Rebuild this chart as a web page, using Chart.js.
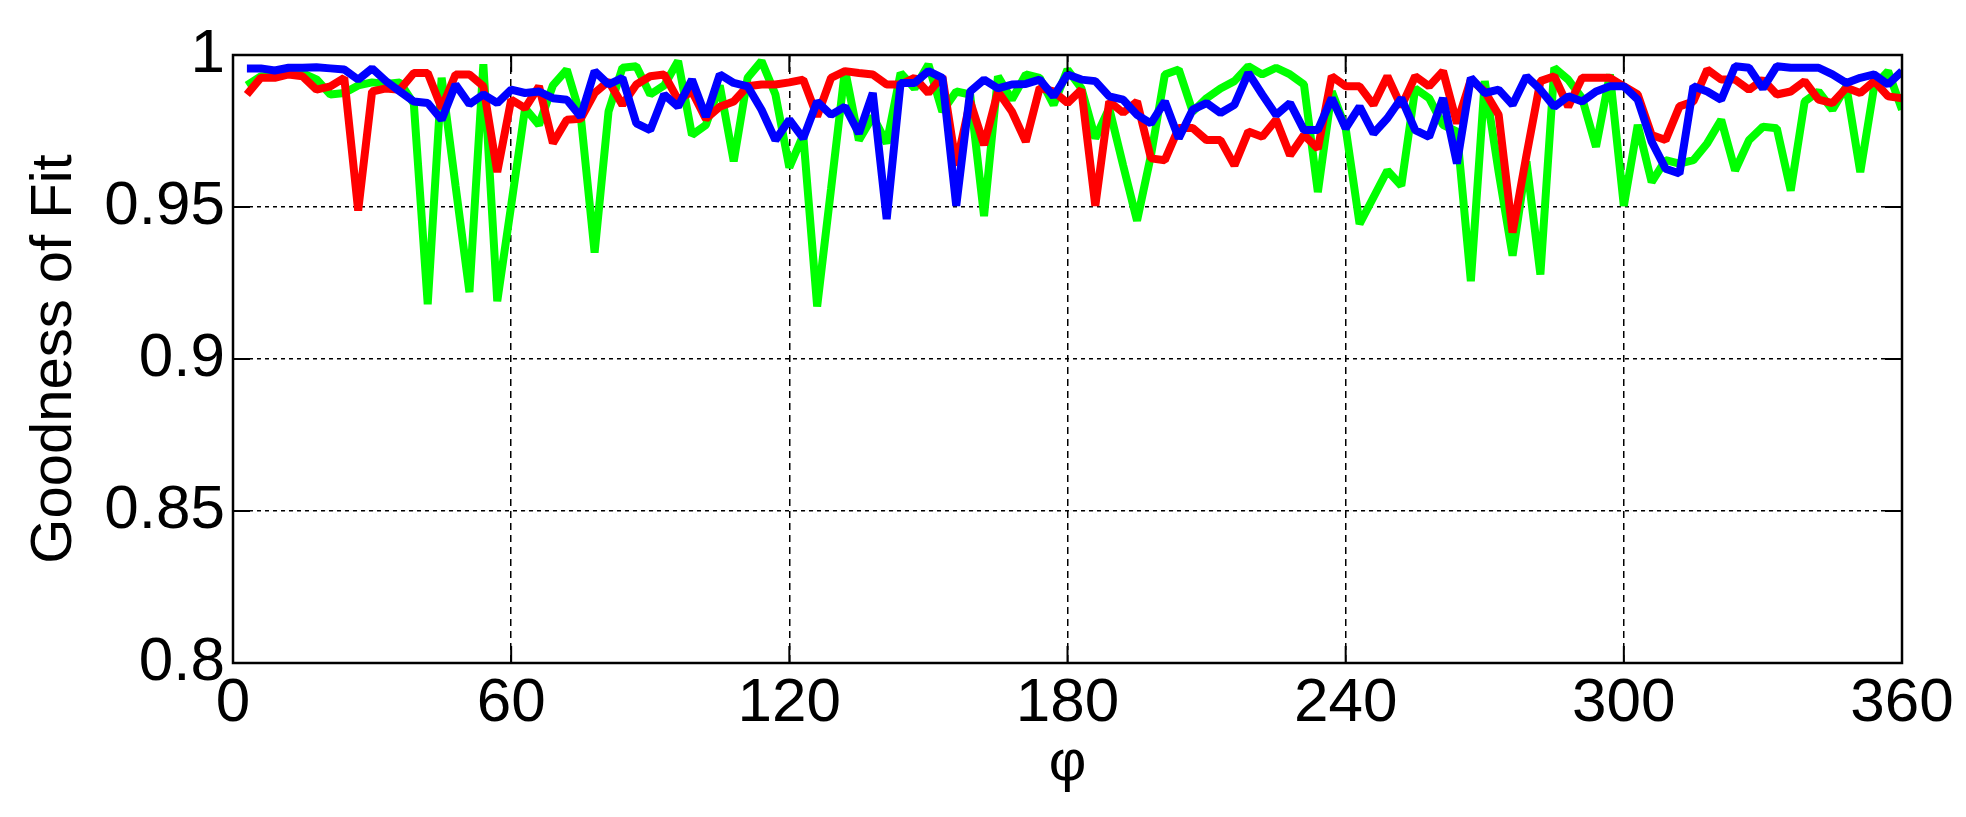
<!DOCTYPE html>
<html>
<head>
<meta charset="utf-8">
<script src="https://cdn.jsdelivr.net/npm/chart.js@4.4.1/dist/chart.umd.min.js"></script>
<style>
  html, body { margin: 0; padding: 0; background: #fff; }
  #wrap { width: 1966px; height: 817px; }
</style>
</head>
<body>
<div id="wrap"><canvas id="myChart" width="1966" height="817"></canvas></div>
<script>
  // phi angles (degrees), one sample every 3 degrees
  const phi = [3, 6, 9, 12, 15, 18, 21, 24, 27, 30, 33, 36, 39, 42, 45, 48, 51, 54, 57, 60,
    63, 66, 69, 72, 75, 78, 81, 84, 87, 90, 93, 96, 99, 102, 105, 108, 111, 114, 117, 120,
    123, 126, 129, 132, 135, 138, 141, 144, 147, 150, 153, 156, 159, 162, 165, 168, 171, 174, 177, 180,
    183, 186, 189, 192, 195, 198, 201, 204, 207, 210, 213, 216, 219, 222, 225, 228, 231, 234, 237, 240,
    243, 246, 249, 252, 255, 258, 261, 264, 267, 270, 273, 276, 279, 282, 285, 288, 291, 294, 297, 300,
    303, 306, 309, 312, 315, 318, 321, 324, 327, 330, 333, 336, 339, 342, 345, 348, 351, 354, 357, 360];

  const redFit = [0.987, 0.9925, 0.9925, 0.9936, 0.993, 0.9886, 0.9897, 0.9925, 0.9488, 0.988, 0.989, 0.9886, 0.9941, 0.9941, 0.9825, 0.9936, 0.9936, 0.9897, 0.9615, 0.9853,
    0.9825, 0.9897, 0.971, 0.9787, 0.979, 0.9875, 0.9914, 0.9836, 0.9903, 0.993, 0.9936, 0.9853, 0.988, 0.979, 0.983, 0.9847, 0.9897, 0.9903, 0.9903, 0.991,
    0.9919, 0.9798, 0.9925, 0.9947, 0.9941, 0.9936, 0.9903, 0.9903, 0.9925, 0.9875, 0.993, 0.9637, 0.9847, 0.9704, 0.988, 0.9814, 0.9715, 0.9892, 0.988, 0.9842,
    0.9886, 0.9504, 0.9847, 0.981, 0.9847, 0.966, 0.9654, 0.976, 0.976, 0.972, 0.972, 0.9637, 0.9748, 0.9731, 0.9787, 0.967, 0.9737, 0.9692, 0.993, 0.9897,
    0.9897, 0.9836, 0.993, 0.983, 0.993, 0.9897, 0.9947, 0.9775, 0.9919, 0.988, 0.9803, 0.9416, 0.967, 0.9914, 0.993, 0.983, 0.9925, 0.9925, 0.9925, 0.9897,
    0.987, 0.9737, 0.972, 0.9831, 0.9847, 0.9952, 0.9919, 0.9919, 0.9886, 0.9919, 0.987, 0.988, 0.9914, 0.9853, 0.9842, 0.9892, 0.9875, 0.9914, 0.9864, 0.9858];

  const greenFit = [0.99, 0.993, 0.993, 0.994, 0.994, 0.992, 0.987, 0.9875, 0.99, 0.991, 0.9905, 0.991, 0.984, 0.918, 0.9925, 0.957, 0.922, 0.997, 0.919, 0.9505,
    0.9825, 0.977, 0.99, 0.9952, 0.98, 0.935, 0.9814, 0.9958, 0.9963, 0.987, 0.99, 0.998, 0.9737, 0.977, 0.99, 0.965, 0.9925, 0.998, 0.987, 0.963,
    0.9737, 0.9173, 0.956, 0.9952, 0.972, 0.9798, 0.971, 0.9941, 0.989, 0.9969, 0.9814, 0.988, 0.987, 0.947, 0.993, 0.9853, 0.9936, 0.9925, 0.9836, 0.9952,
    0.989, 0.9726, 0.9825, 0.9637, 0.9455, 0.967, 0.9936, 0.9952, 0.9814, 0.9858, 0.989, 0.9914, 0.9963, 0.9936, 0.9958, 0.9936, 0.9903, 0.9549, 0.988, 0.9759,
    0.9444, 0.9532, 0.962, 0.957, 0.989, 0.9858, 0.977, 0.9748, 0.9256, 0.9914, 0.9615, 0.934, 0.965, 0.9278, 0.9958, 0.9919, 0.9858, 0.9698, 0.9936, 0.9504,
    0.977, 0.9582, 0.9654, 0.9643, 0.9654, 0.971, 0.9787, 0.962, 0.972, 0.9764, 0.9759, 0.9554, 0.9847, 0.988, 0.982, 0.9897, 0.9615, 0.9897, 0.9947, 0.982];

  const blueFit = [0.9956, 0.9956, 0.9949, 0.9958, 0.9958, 0.996, 0.9956, 0.9952, 0.9919, 0.9956, 0.9914, 0.988, 0.9847, 0.9842, 0.9787, 0.9903, 0.9838, 0.987, 0.9842, 0.9886,
    0.9875, 0.988, 0.9858, 0.9853, 0.9797, 0.9947, 0.9903, 0.9925, 0.9775, 0.9753, 0.987, 0.983, 0.9919, 0.9797, 0.9936, 0.9908, 0.9897, 0.982, 0.972, 0.9787,
    0.9726, 0.9847, 0.9803, 0.983, 0.9742, 0.9875, 0.946, 0.9908, 0.9908, 0.9947, 0.9925, 0.9504, 0.988, 0.9919, 0.989, 0.9903, 0.9905, 0.9919, 0.9864, 0.9936,
    0.9919, 0.9914, 0.9864, 0.9853, 0.9803, 0.9775, 0.9847, 0.9726, 0.982, 0.9842, 0.9809, 0.9836, 0.9941, 0.987, 0.9803, 0.9842, 0.9753, 0.9753, 0.9858, 0.9759,
    0.983, 0.9742, 0.9792, 0.9858, 0.9753, 0.9731, 0.9858, 0.9643, 0.9925, 0.9875, 0.9886, 0.9836, 0.993, 0.9886, 0.983, 0.9864, 0.9847, 0.988, 0.9897, 0.9897,
    0.9853, 0.9715, 0.9626, 0.961, 0.9897, 0.988, 0.9853, 0.9963, 0.9958, 0.989, 0.9963, 0.9958, 0.9958, 0.9958, 0.9936, 0.9908, 0.9925, 0.9936, 0.9903, 0.9947];

  const xTicks = [0, 60, 120, 180, 240, 300, 360];
  const yTicks = [0.8, 0.85, 0.9, 0.95, 1];

  function toPoints(values) {
    return phi.map((p, i) => ({ x: p, y: values[i] }));
  }

  // black frame around the plot with small inward ticks, like matlab axes
  const boxFrame = {
    id: 'boxFrame',
    afterDraw(chart) {
      const { ctx, chartArea: a, scales } = chart;
      const len = 17;
      ctx.save();
      ctx.strokeStyle = '#000';
      ctx.lineWidth = 2;
      ctx.setLineDash([]);
      ctx.beginPath();
      xTicks.forEach(t => {
        const px = scales.x.getPixelForValue(t);
        ctx.moveTo(px, a.bottom); ctx.lineTo(px, a.bottom - len);
        ctx.moveTo(px, a.top); ctx.lineTo(px, a.top + len);
      });
      yTicks.forEach(t => {
        const py = scales.y.getPixelForValue(t);
        ctx.moveTo(a.left, py); ctx.lineTo(a.left + len, py);
        ctx.moveTo(a.right, py); ctx.lineTo(a.right - len, py);
      });
      ctx.stroke();
      ctx.lineWidth = 2.5;
      ctx.strokeRect(a.left, a.top, a.right - a.left, a.bottom - a.top);
      ctx.restore();
    }
  };

  const lineStyle = { borderWidth: 8, pointRadius: 0, fill: false, tension: 0, borderJoinStyle: 'bevel' };

  let data = {
    datasets: [
      // lower order is drawn on top: blue over red over green
      { label: 'blue', data: toPoints(blueFit), borderColor: '#0000ff', order: 1, ...lineStyle },
      { label: 'red', data: toPoints(redFit), borderColor: '#ff0000', order: 2, ...lineStyle },
      { label: 'green', data: toPoints(greenFit), borderColor: '#00ff00', order: 3, ...lineStyle }
    ]
  };

  const tickFont = { family: 'Liberation Sans, Arial, sans-serif', size: 62 };
  const titleFont = { family: 'Liberation Sans, Arial, sans-serif', size: 58 };

  let configuration = {
    type: 'line',
    data: data,
    options: {
      responsive: false,
      animation: false,
      devicePixelRatio: 1,
      layout: { padding: { left: 0, right: 64, top: 55, bottom: 0 } },
      plugins: {
        legend: { display: false },
        tooltip: { enabled: false }
      },
      scales: {
        x: {
          type: 'linear',
          min: 0,
          max: 360,
          afterFit: s => { s.height = 154; },
          afterBuildTicks: s => { s.ticks = xTicks.map(v => ({ value: v })); },
          ticks: { font: tickFont, color: '#000', padding: 4, maxRotation: 0 },
          grid: { color: '#000', lineWidth: 1.5, drawTicks: false },
          border: { display: false, dash: [7, 5] },
          title: { display: true, text: 'φ', font: titleFont, color: '#000', padding: { top: 0, bottom: 18 } }
        },
        y: {
          min: 0.8,
          max: 1,
          afterFit: s => { s.width = 233; },
          afterBuildTicks: s => { s.ticks = yTicks.map(v => ({ value: v })); },
          ticks: { font: tickFont, color: '#000', padding: 8, callback: v => String(+v.toFixed(2)) },
          grid: { color: '#000', lineWidth: 1.5, drawTicks: false },
          border: { display: false, dash: [4, 4] },
          title: { display: true, text: 'Goodness of Fit', font: titleFont, color: '#000', padding: { top: 20, bottom: 0 } }
        }
      }
    },
    plugins: [boxFrame]
  };

  new Chart(document.getElementById('myChart'), configuration);
</script>
</body>
</html>
